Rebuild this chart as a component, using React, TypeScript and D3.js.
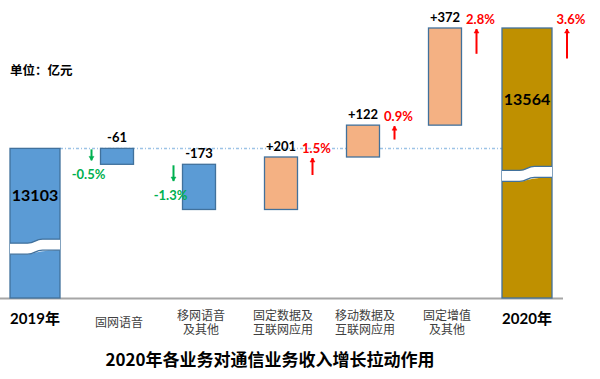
import React from "react";
import * as d3 from "d3";

const categories = ["2019年", "固网语音", "移网语音\n及其他", "固定数据及\n互联网应用", "移动数据及\n互联网应用", "固定增值\n及其他", "2020年"];
const startTotal = 13103;
const endTotal = 13564;
const changes = [-61, -173, 201, 122, 372];
const pctLabels = ["-0.5%", "-1.3%", "1.5%", "0.9%", "2.8%", "3.6%"];
const pctValues = [-0.5, -1.3, 1.5, 0.9, 2.8, 3.6];
const unitLabel = "单位：亿元";
const title = "2020年各业务对通信业务收入增长拉动作用";

const W = 600, H = 379;
const NUM_FONT = "Lato, 'Open Sans', 'Noto Sans CJK SC', sans-serif";
const CJK_FONT = "'Noto Sans CJK SC', sans-serif";

export default function App() {
  const x = d3.scalePoint<string>().domain(categories).range([35, 527]);
  const y = d3.scaleLinear().domain([12530, 13564]).range([298, 28]);
  const arrowLen = d3.scaleLinear().domain([0, 4]).range([8, 32]);
  const baseY = 298;
  const totalW = 50, chgW = 33;

  let run = startTotal;
  const steps = changes.map((c, i) => {
    const from = run;
    const to = run + c;
    run = to;
    return { cat: categories[i + 1], c, from, to };
  });

  const totals = [
    { cat: categories[0], v: startTotal, breakFrac: 0.62 },
    { cat: categories[6], v: endTotal, breakFrac: 0.52 },
  ];

  const blue = "#5b9bd5", orange = "#f4b183", gold = "#bf9000", edge = "#41719c";

  const arrow = (ax: number, y1: number, y2: number, color: string, up: boolean) => {
    const head = up ? y1 : y2;
    const dir = up ? 1 : -1;
    return (
      <g>
        <line x1={ax} x2={ax} y1={y1} y2={y2} stroke={color} strokeWidth={2} />
        <path d={`M${ax - 2.5},${head + dir * 4} L${ax},${head} L${ax + 2.5},${head + dir * 4} Z`} fill={color} stroke={color} strokeWidth={0.5} />
      </g>
    );
  };

  return (
    <svg width={W} height={H} style={{ position: "absolute", left: 0, top: 0, background: "#fff" }}>
      <line x1={(x(categories[0]) as number) + totalW / 2} x2={(x(categories[6]) as number) - totalW / 2}
        y1={y(startTotal)} y2={y(startTotal)} stroke="#9dc3e6" strokeWidth={1.5} strokeDasharray="3,2,1,2" />

      <line x1={0} x2={563} y1={baseY + 0.5} y2={baseY + 0.5} stroke="#a6a6a6" strokeWidth={2} />

      {totals.map((t, i) => {
        const cx = x(t.cat) as number;
        const top = y(t.v);
        const x0 = cx - totalW / 2, x1 = cx + totalW / 2;
        const bt = top + (baseY - top) * t.breakFrac;
        const bh = 11;
        const wave = (yy: number) =>
          `M${x0},${yy + 2} L${x0 + totalW * 0.35},${yy + 2} C${x0 + totalW * 0.5},${yy + 2} ${x0 + totalW * 0.5},${yy - 2} ${x0 + totalW * 0.65},${yy - 2} L${x1},${yy - 2}`;
        const bandPath = `${wave(bt)} L${x1},${bt + bh - 2} C${x0 + totalW * 0.5},${bt + bh - 2} ${x0 + totalW * 0.5},${bt + bh + 2} ${x0 + totalW * 0.35},${bt + bh + 2} L${x0},${bt + bh + 2} Z`;
        return (
          <g key={t.cat}>
            <rect x={x0} y={top} width={totalW} height={baseY - top} fill={i === 0 ? blue : gold} stroke={edge} strokeWidth={1.3} />
            <path d={bandPath} fill="#fff" stroke="none" />
            <path d={wave(bt)} fill="none" stroke={edge} strokeWidth={1.3} />
            <path d={wave(bt + bh)} fill="none" stroke={edge} strokeWidth={1.3} />
            <text x={cx} y={(top + bt) / 2} textAnchor="middle" dominantBaseline="central"
              fontFamily={NUM_FONT} fontWeight={700} fontSize={16} fill="#000">{t.v}</text>
          </g>
        );
      })}

      {steps.map((s) => {
        const cx = x(s.cat) as number;
        const top = y(Math.max(s.from, s.to));
        const bot = y(Math.min(s.from, s.to));
        const pos = s.c > 0;
        return (
          <g key={s.cat}>
            <rect x={cx - chgW / 2} y={top} width={chgW} height={bot - top}
              fill={pos ? orange : blue} stroke={edge} strokeWidth={1.3} />
            <text x={cx} y={top - 6} textAnchor="middle" fontFamily={NUM_FONT} fontWeight={700} fontSize={13} fill="#000">
              {pos ? `+${s.c}` : `${s.c}`}
            </text>
          </g>
        );
      })}

      {pctLabels.map((p, i) => {
        const pv = pctValues[i];
        const pos = pv > 0;
        const isTotal = i === 5;
        const cat = isTotal ? categories[6] : steps[i].cat;
        const cx = x(cat) as number;
        const w = isTotal ? totalW : chgW;
        const top = isTotal ? y(endTotal) : y(Math.max(steps[i].from, steps[i].to));
        const len = arrowLen(Math.abs(pv));
        const color = pos ? "#ff0000" : "#00b050";
        const ax = pos ? cx + w / 2 + 15 : cx - w / 2 - 9;
        const y1 = top + 1, y2 = top + 1 + len;
        return (
          <g key={p}>
            {arrow(ax, y1, y2, color, pos)}
            <text x={pos ? ax + 4 : ax - 3} y={pos ? y1 - 10 : y2 + 14} textAnchor="middle" dominantBaseline="central"
              fontFamily={NUM_FONT} fontWeight={700} fontSize={13} fill={color}>{p}</text>
          </g>
        );
      })}

      {categories.map((c, i) => {
        const cx = x(c) as number;
        const isYear = i === 0 || i === categories.length - 1;
        const lines = c.split("\n");
        if (isYear) {
          return (
            <text key={c} x={cx} y={318} textAnchor="middle" dominantBaseline="central"
              fontFamily={NUM_FONT} fontWeight={700} fontSize={15} fill="#000">{c}</text>
          );
        }
        return lines.map((l, j) => (
          <text key={c + j} x={cx + 2} y={321 + (j - (lines.length - 1) / 2) * 14} textAnchor="middle" dominantBaseline="central"
            fontFamily={CJK_FONT} fontSize={12} fill="#404040">{l}</text>
        ));
      })}

      <text x={10} y={69} dominantBaseline="central" fontFamily={CJK_FONT} fontWeight={700} fontSize={12.5} fill="#000">{unitLabel}</text>

      <text x={270} y={358} textAnchor="middle" dominantBaseline="central" fontFamily={CJK_FONT} fontWeight={700} fontSize={17} fill="#000">{title}</text>
    </svg>
  );
}
